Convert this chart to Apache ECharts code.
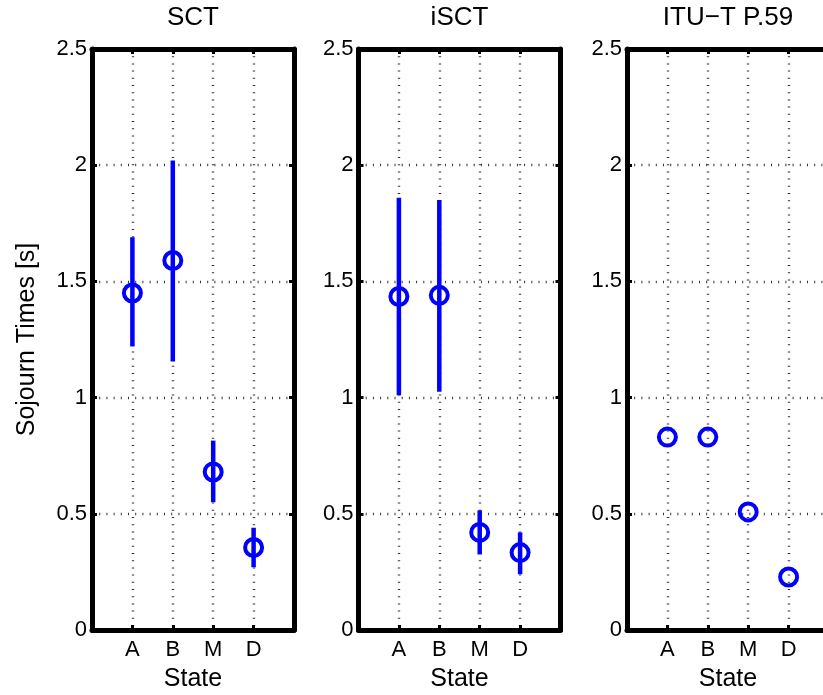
<!DOCTYPE html>
<html>
<head>
<meta charset="utf-8">
<script src="https://cdn.jsdelivr.net/npm/echarts@6/dist/echarts.min.js"></script>
<style>
html,body{margin:0;padding:0;background:#fff;}
#c{width:823px;height:695px;}
</style>
</head>
<body>
<div id="c"></div>
<script>
// ---- data ----
const states = ['A', 'B', 'M', 'D'];
const panelTitles = ['SCT', 'iSCT', 'ITU\u2212T P.59'];
const yTicks = [0, 0.5, 1, 1.5, 2, 2.5];

const sctMean = [1.45, 1.59, 0.68, 0.355];
const sctLow  = [1.22, 1.155, 0.55, 0.27];
const sctHigh = [1.69, 2.02, 0.815, 0.44];

const isctMean = [1.435, 1.44, 0.42, 0.333];
const isctLow  = [1.01, 1.025, 0.325, 0.24];
const isctHigh = [1.86, 1.85, 0.515, 0.42];

const ituMean = [0.83, 0.83, 0.508, 0.228];

const xLabel = 'State';
const yLabel = 'Sojourn Times [s]';

// ---- layout ----
const FONT = "'Liberation Sans', Arial, Helvetica, sans-serif";
const gridLefts = [92, 358.5, 627];
const GW = 202, GTOP = 49, GH = 581;
const BLUE = '#0000ff';

const chart = echarts.init(document.getElementById('c'), null, {renderer: 'canvas'});

const grids = [], xAxes = [], yAxes = [], series = [], titles = [];
const gridStyle = {color: '#333', width: 2.4, type: [1, 6.2]};

const panels = [
  {mean: sctMean, low: sctLow, high: sctHigh},
  {mean: isctMean, low: isctLow, high: isctHigh},
  {mean: ituMean, low: null, high: null}
];

panels.forEach((p, k) => {
  grids.push({left: gridLefts[k], top: GTOP, width: GW, height: GH, containLabel: false, outerBoundsMode: 'none'});
  titles.push({
    text: panelTitles[k], left: gridLefts[k] + GW / 2, top: 5, textAlign: 'center', padding: 0,
    textStyle: {fontFamily: FONT, fontSize: 26, fontWeight: 'normal', color: '#000'}
  });
  const xBase = {
    gridIndex: k, type: 'value', min: 0, max: 5, interval: 1,
    axisLine: {show: true, onZero: false, lineStyle: {color: '#000', width: 5}},
    axisTick: {show: true, inside: true, length: 5, lineStyle: {color: '#000', width: 3}}
  };
  xAxes.push(Object.assign({}, xBase, {
    position: 'bottom',
    name: xLabel, nameLocation: 'middle', nameGap: 37,
    nameTextStyle: {fontFamily: FONT, fontSize: 25, color: '#000'},
    axisLabel: {
      margin: 9, fontFamily: FONT, fontSize: 22, color: '#000',
      formatter: v => (v >= 1 && v <= states.length ? states[v - 1] : '')
    },
    splitLine: {show: true, lineStyle: gridStyle}
  }));
  xAxes.push(Object.assign({}, xBase, {
    position: 'top', axisLabel: {show: false}, splitLine: {show: false}
  }));
  const yBase = {
    gridIndex: k, type: 'value', min: 0, max: 2.5, interval: 0.5,
    axisLine: {show: true, onZero: false, lineStyle: {color: '#000', width: 5}},
    axisTick: {show: true, inside: true, length: 5, lineStyle: {color: '#000', width: 3}}
  };
  const yMain = Object.assign({}, yBase, {
    position: 'left',
    axisLabel: {
      margin: 5, fontFamily: FONT, fontSize: 22, color: '#000',
      formatter: v => String(yTicks.find(t => Math.abs(t - v) < 1e-9) ?? v)
    },
    splitLine: {show: true, lineStyle: gridStyle}
  });
  if (k === 0) {
    yMain.name = yLabel;
    yMain.nameLocation = 'middle';
    yMain.nameGap = 52;
    yMain.nameTextStyle = {fontFamily: FONT, fontSize: 25, color: '#000'};
  }
  yAxes.push(yMain);
  yAxes.push(Object.assign({}, yBase, {
    position: 'right', axisLabel: {show: false}, splitLine: {show: false}
  }));

  if (p.low) {
    series.push({
      type: 'custom', xAxisIndex: 2 * k, yAxisIndex: 2 * k,
      silent: true, animation: false, z: 3,
      encode: {x: 0, y: [1, 2]},
      data: states.map((s, i) => [i + 1, p.low[i], p.high[i]]),
      renderItem: (params, api) => {
        const x = api.value(0);
        const a = api.coord([x, api.value(1)]);
        const b = api.coord([x, api.value(2)]);
        return {
          type: 'line',
          shape: {x1: a[0], y1: a[1], x2: b[0], y2: b[1]},
          style: {stroke: BLUE, lineWidth: 4.5}
        };
      }
    });
  }
  series.push({
    type: 'scatter', xAxisIndex: 2 * k, yAxisIndex: 2 * k,
    silent: true, animation: false, z: 4,
    symbol: 'circle', symbolSize: 17,
    itemStyle: {color: 'rgba(0,0,0,0)', borderColor: BLUE, borderWidth: 4, opacity: 1},
    data: states.map((s, i) => [i + 1, p.mean[i]])
  });
});

chart.setOption({
  backgroundColor: '#fff',
  animation: false,
  title: titles,
  grid: grids,
  xAxis: xAxes,
  yAxis: yAxes,
  series: series
});
</script>
</body>
</html>
